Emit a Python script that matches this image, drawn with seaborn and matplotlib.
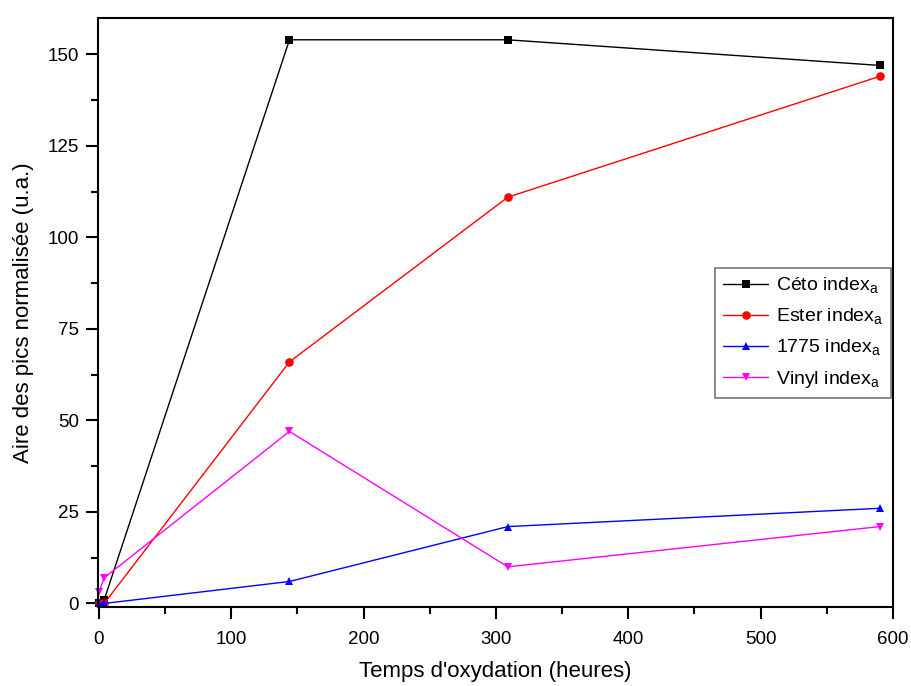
import pandas as pd
import matplotlib.pyplot as plt
import seaborn as sns

sns.set_style('ticks')
plt.rcParams['font.family'] = ['Liberation Sans', 'DejaVu Sans']
plt.rcParams['mathtext.fontset'] = 'custom'
plt.rcParams['mathtext.rm'] = 'Liberation Sans'
plt.rcParams['text.color'] = 'black'
plt.rcParams['axes.labelcolor'] = 'black'
plt.rcParams['xtick.color'] = 'black'
plt.rcParams['ytick.color'] = 'black'
plt.rcParams['axes.edgecolor'] = 'black'

# Data
heures = [0, 4, 144, 309, 590]
ceto = [0, 1, 154, 154, 147]
ester = [0, 0, 66, 111, 144]
idx_1775 = [0, 0, 6, 21, 26]
vinyl = [3, 7, 47, 10, 21]

series_names = ['Céto index$_\\mathrm{a}$', 'Ester index$_\\mathrm{a}$',
                '1775 index$_\\mathrm{a}$', 'Vinyl index$_\\mathrm{a}$']
colors = ['black', 'red', 'blue', 'magenta']
markers = ['s', 'o', '^', 'v']

rows = []
for name, vals in zip(series_names, [ceto, ester, idx_1775, vinyl]):
    for x, y in zip(heures, vals):
        rows.append({'heures': x, 'aire': y, 'serie': name})
df = pd.DataFrame(rows)

fig = plt.figure(figsize=(9.12, 6.86), dpi=100)
ax = fig.add_axes([0.107, 0.115, 0.872, 0.859])

sns.lineplot(data=df, x='heures', y='aire', hue='serie', style='serie',
             hue_order=series_names, style_order=series_names,
             palette=dict(zip(series_names, colors)),
             markers=dict(zip(series_names, markers)),
             dashes=False, markersize=6.2, linewidth=1,
             markeredgewidth=0, sort=False, ax=ax, clip_on=False)

ax.set_xlim(-1, 600)
ax.set_ylim(-1, 160)
ax.set_xticks(range(0, 601, 100))
ax.set_xticks(range(50, 600, 100), minor=True)
ax.set_yticks(range(0, 151, 25))
ax.set_yticks([12.5 + 25 * i for i in range(6)], minor=True)
ax.tick_params(axis='both', which='major', direction='out', length=8.5, width=1.5,
               labelsize=13.5, top=False, right=False)
ax.tick_params(axis='both', which='minor', direction='out', length=5, width=1.5,
               top=False, right=False)
ax.tick_params(axis='x', which='major', pad=9)
ax.tick_params(axis='y', which='major', pad=5)
for s in ax.spines.values():
    s.set_linewidth(1.5)

ax.set_xlabel("Temps d'oxydation (heures)", fontsize=16, labelpad=9)
ax.set_ylabel('Aire des pics normalisée (u.a.)', fontsize=16, labelpad=10)

handles, labels = ax.get_legend_handles_labels()
leg = ax.legend(handles, labels, loc='center right', bbox_to_anchor=(1.0, 0.465),
                fontsize=14, frameon=True, fancybox=False, edgecolor='#555555',
                handlelength=2.3, handletextpad=0.4, borderaxespad=0.1,
                labelspacing=0.55)
leg.get_frame().set_linewidth(1.2)

plt.savefig('out.png', dpi=100)
